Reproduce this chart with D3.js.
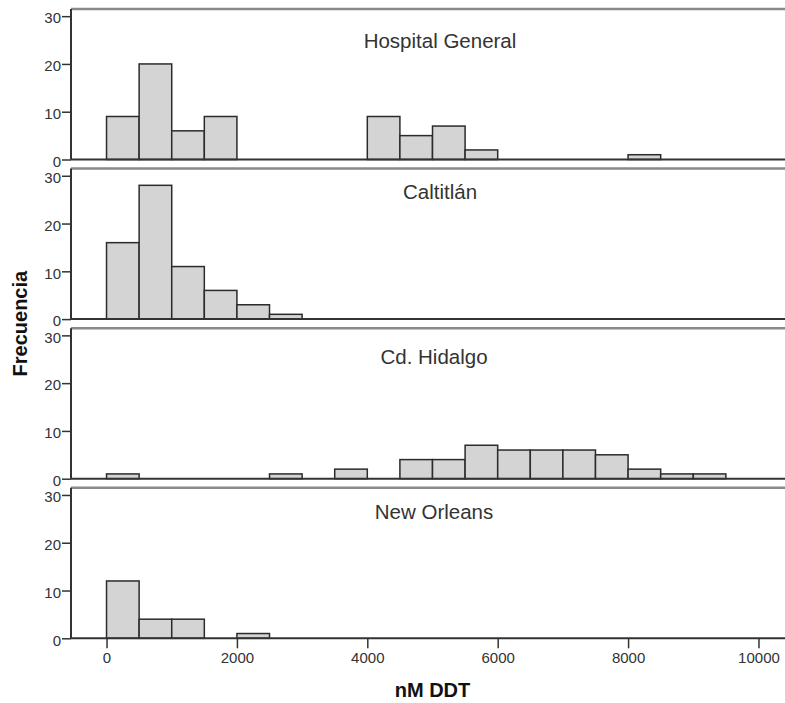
<!DOCTYPE html>
<html>
<head>
<meta charset="utf-8">
<script src="https://cdn.jsdelivr.net/npm/d3@7"></script>
<style>
  body { margin: 0; background: #fff; }
  text { font-family: Arial, "Liberation Sans", sans-serif; }
</style>
</head>
<body>
<div id="chart"></div>
<script>
// bin starts (nM DDT), each bin 500 wide
const binStarts = [0, 500, 1000, 1500, 2000, 2500, 3000, 3500, 4000, 4500,
                   5000, 5500, 6000, 6500, 7000, 7500, 8000, 8500, 9000, 9500];
const binWidth = 500;

const sites = ["Hospital General", "Caltitlán", "Cd. Hidalgo", "New Orleans"];

const hospitalGeneral = [9, 20, 6, 9, 0, 0, 0, 0, 9, 5, 7, 2, 0, 0, 0, 0, 1, 0, 0, 0];
const caltitlan       = [16, 28, 11, 6, 3, 1, 0, 0, 0, 0, 0, 0, 0, 0, 0, 0, 0, 0, 0, 0];
const cdHidalgo       = [1, 0, 0, 0, 0, 1, 0, 2, 0, 4, 4, 7, 6, 6, 6, 5, 2, 1, 1, 0];
const newOrleans      = [12, 4, 4, 0, 1, 0, 0, 0, 0, 0, 0, 0, 0, 0, 0, 0, 0, 0, 0, 0];

const yTicks = [0, 10, 20, 30];
const xTicks = [0, 2000, 4000, 6000, 8000, 10000];

const counts = [hospitalGeneral, caltitlan, cdHidalgo, newOrleans];

const width = 785, height = 703;
const left = 71, right = 794;
const firstTop = 9, panelStep = 159.6, panelH = 150.5;
// title placement inside each panel (center x, baseline below panel top)
const titleX = [440, 440, 434, 434];
const titleDy = [38.7, 30.5, 35.6, 31.6];

const svg = d3.select("#chart")
    .append("svg")
    .attr("width", width)
    .attr("height", height);

const x = d3.scaleLinear()
    .domain([-545, 10545])
    .range([left, right]);

sites.forEach((site, i) => {
    const top = firstTop + i * panelStep;
    const y = d3.scaleLinear()
        .domain([0, 31.5])
        .range([top + panelH, top]);

    const g = svg.append("g");

    // gray top border of the panel
    g.append("line")
        .attr("x1", left).attr("x2", right)
        .attr("y1", top).attr("y2", top)
        .attr("stroke", "#8a8a8a")
        .attr("stroke-width", 2.5);

    const data = binStarts.map((b, k) => ({ start: b, n: counts[i][k] }))
        .filter(d => d.n > 0);

    g.append("g")
        .selectAll("rect")
        .data(data)
        .enter()
        .append("rect")
        .attr("x", d => x(d.start))
        .attr("width", d => x(d.start + binWidth) - x(d.start))
        .attr("y", d => y(d.n))
        .attr("height", d => y(0) - y(d.n))
        .attr("fill", "#d4d4d4")
        .attr("stroke", "#2b2b2b")
        .attr("stroke-width", 1.5);

    // y axis
    const yAxis = g.append("g")
        .attr("transform", "translate(" + left + ",0)")
        .call(d3.axisLeft(y).tickValues(yTicks).tickSize(9).tickPadding(1).tickSizeOuter(0));
    yAxis.select(".domain").remove();
    yAxis.append("line")
        .attr("x1", 0).attr("x2", 0)
        .attr("y1", top).attr("y2", y(0))
        .attr("stroke", "#333")
        .attr("stroke-width", 2);
    yAxis.selectAll(".tick line").attr("stroke", "#333").attr("stroke-width", 1.5);
    yAxis.selectAll(".tick text")
        .attr("fill", "#333")
        .attr("dy", "0.45em")
        .style("font-size", "15px");

    // baseline
    g.append("line")
        .attr("x1", left).attr("x2", right)
        .attr("y1", y(0)).attr("y2", y(0))
        .attr("stroke", "#333")
        .attr("stroke-width", 2);

    g.append("text")
        .attr("x", titleX[i])
        .attr("y", top + titleDy[i])
        .attr("text-anchor", "middle")
        .attr("fill", "#333")
        .style("font-size", "20.5px")
        .text(site);

    if (i === sites.length - 1) {
        const xAxis = g.append("g")
            .attr("transform", "translate(0," + y(0) + ")")
            .call(d3.axisBottom(x).tickValues(xTicks).tickFormat(d3.format("d"))
                .tickSize(10).tickPadding(4).tickSizeOuter(0));
        xAxis.select(".domain").remove();
        xAxis.selectAll(".tick line").attr("stroke", "#333").attr("stroke-width", 1.5);
        xAxis.selectAll(".tick text")
            .attr("fill", "#333")
            .style("font-size", "15px");
    }
});

const plotTop = firstTop;
const plotBottom = firstTop + 3 * panelStep + panelH;

svg.append("text")
    .attr("transform", "translate(27," + ((plotTop + plotBottom) / 2) + ") rotate(-90)")
    .attr("text-anchor", "middle")
    .attr("fill", "#111")
    .style("font-size", "20px")
    .style("font-weight", "bold")
    .text("Frecuencia");

svg.append("text")
    .attr("x", (left + right) / 2)
    .attr("y", 696.5)
    .attr("text-anchor", "middle")
    .attr("fill", "#111")
    .style("font-size", "20px")
    .style("font-weight", "bold")
    .text("nM DDT");
</script>
</body>
</html>
